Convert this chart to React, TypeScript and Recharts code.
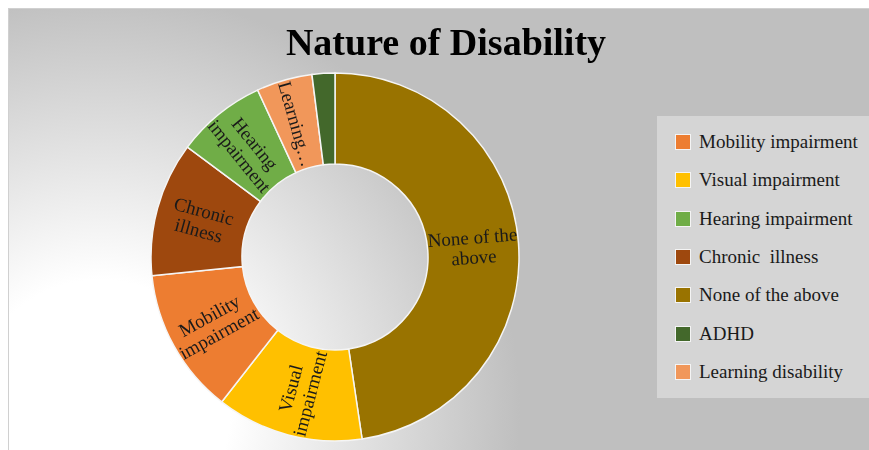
import React from "react";
import { PieChart, Pie, Cell, Legend } from "recharts";

// Categories in legend order
const categories = [
  "Mobility impairment",
  "Visual impairment",
  "Hearing impairment",
  "Chronic  illness",
  "None of the above",
  "ADHD",
  "Learning disability",
];
// Percent share
const values = [12.8, 12.9, 7.9, 11.8, 47.6, 2.0, 4.9];
const colors = ["#ED7D31", "#FFC000", "#70AD47", "#9E480E", "#997300", "#43682B", "#F1975A"];
// Slice order, clockwise from 12 o'clock (indexes into categories)
const sliceOrder = [4, 1, 0, 3, 2, 6, 5];
// In-slice label lines
const sliceLabels = [
  ["Mobility", "impairment"],
  ["Visual", "impairment"],
  ["Hearing", "impairment"],
  ["Chronic", "illness"],
  ["None of the", "above"],
  [],
  ["Learning\u2026"],
];
const title = "Nature of Disability";

const FONT = "'Liberation Serif', 'Times New Roman', serif";

const pieData = sliceOrder.map((i) => ({
  name: categories[i],
  value: values[i],
  color: colors[i],
  lines: sliceLabels[i],
}));

const RAD = Math.PI / 180;

function renderLabel(props: any) {
  const { cx, cy, midAngle, innerRadius, outerRadius, index } = props;
  const lines: string[] = pieData[index]?.lines ?? [];
  if (!lines.length) return <g />;
  const r = (innerRadius + outerRadius) / 2;
  const x = cx + r * Math.cos(-midAngle * RAD);
  const y = cy + r * Math.sin(-midAngle * RAD);
  let a = Math.atan2(Math.sin(midAngle * RAD), -Math.cos(midAngle * RAD)) / RAD;
  if (a > 90) a -= 180;
  if (a < -90) a += 180;
  const lh = 20;
  return (
    <text
      transform={`translate(${x},${y}) rotate(${a})`}
      textAnchor="middle"
      dominantBaseline="central"
      fontFamily={FONT}
      fontSize={19}
      fill="#1a1a1a"
    >
      {lines.map((l, i) => (
        <tspan key={i} x={0} y={(i - (lines.length - 1) / 2) * lh}>
          {l}
        </tspan>
      ))}
    </text>
  );
}

function renderLegend() {
  return (
    <div
      style={{
        background: "#d5d5d5",
        width: 212,
        height: 282,
        boxSizing: "border-box",
        paddingTop: 7,
        paddingLeft: 18,
        fontFamily: FONT,
        fontSize: 19,
        color: "#1a1a1a",
      }}
    >
      {categories.map((c, i) => (
        <div
          key={c}
          style={{ height: 38.33, display: "flex", alignItems: "center", whiteSpace: "pre" }}
        >
          <span
            style={{
              display: "inline-block",
              width: 14,
              height: 14,
              background: colors[i],
              border: "1px solid #f4f4f4",
              marginRight: 8,
              flex: "none",
            }}
          />
          <span>{c}</span>
        </div>
      ))}
    </div>
  );
}

export default function App() {
  return (
    <div
      style={{
        position: "fixed",
        left: 8,
        top: 8,
        width: 861,
        height: 442,
        boxSizing: "border-box",
        borderLeft: "1px solid #d0d0d0",
        borderTop: "1px solid #d0d0d0",
        background:
          "radial-gradient(circle at 91px 401px, #ffffff 0px, #ffffff 130px, #bfbfbf 420px)",
        overflow: "hidden",
      }}
    >
      <div
        style={{
          position: "absolute",
          left: 437,
          top: 14,
          transform: "translateX(-50%)",
          fontFamily: FONT,
          fontWeight: "bold",
          fontSize: 38,
          lineHeight: "38px",
          color: "#000",
          whiteSpace: "nowrap",
        }}
      >
        {title}
      </div>
      <PieChart
        width={860}
        height={441}
        margin={{ top: 0, right: 0, bottom: 0, left: 0 }}
        style={{ position: "absolute", left: 0, top: 0 }}
      >
        <Pie
          data={pieData}
          dataKey="value"
          nameKey="name"
          cx={326}
          cy={248}
          innerRadius={93}
          outerRadius={184}
          startAngle={90}
          endAngle={-270}
          stroke="#f5f5f5"
          strokeWidth={1.5}
          label={renderLabel}
          labelLine={false}
          isAnimationActive={false}
        >
          {pieData.map((d) => (
            <Cell key={d.name} fill={d.color} />
          ))}
        </Pie>
        <Legend
          content={renderLegend}
          wrapperStyle={{ position: "absolute", left: 648, top: 107, width: 212, height: 282 }}
        />
      </PieChart>
    </div>
  );
}
